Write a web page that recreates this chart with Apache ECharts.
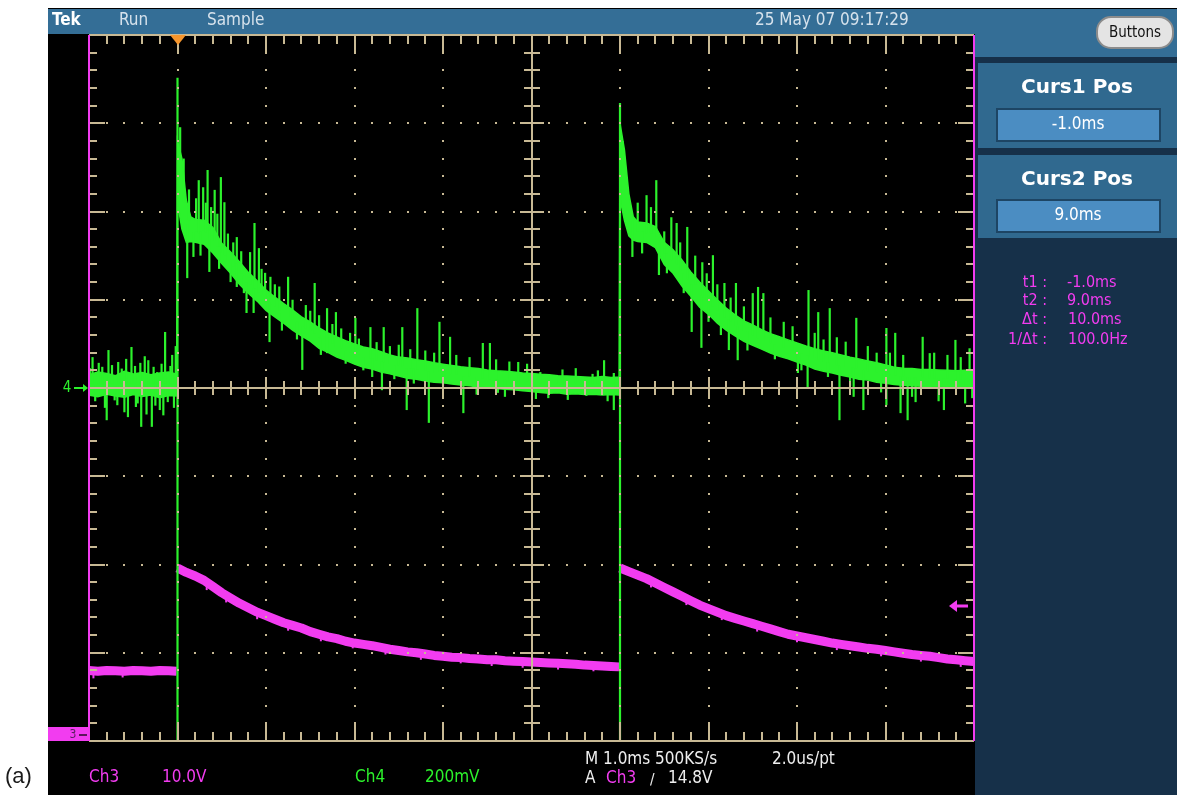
<!DOCTYPE html>
<html>
<head>
<meta charset="utf-8">
<style>
html, body { margin: 0; padding: 0; background: #fff; }
#main { width: 1177px; height: 795px; }
</style>
<script src="https://cdn.jsdelivr.net/npm/echarts@6/dist/echarts.min.js"></script>
</head>
<body>
<div id="main"></div>
<script>
// horizontal: ms (1.0ms/div), Ch4: mV (200mV/div), Ch3: V (10.0V/div)
var xTicks = [-1, 0, 1, 2, 3, 4, 5, 6, 7, 8, 9];
var yTicks = [-800, -600, -400, -200, 0, 200, 400, 600, 800];
var ch3Range = [-0.5, 79.5];
var trigTime = 0;
var trigLevel = 14.8;

// Ch4 (green) noise band, low / high edge
var ch4Time = [-1.0, -0.9, -0.8, -0.7, -0.6, -0.5, -0.4, -0.3, -0.2, -0.1, -0.01,
    0.0, 0.05, 0.1, 0.15, 0.2, 0.3, 0.4, 0.5, 0.6, 0.7, 0.8, 0.9,
    1.0, 1.1, 1.2, 1.3, 1.4, 1.5, 1.6, 1.7, 1.8, 1.9,
    2.0, 2.1, 2.2, 2.3, 2.4, 2.5, 2.6, 2.7, 2.8, 2.9,
    3.0, 3.1, 3.2, 3.3, 3.4, 3.5, 3.6, 3.7, 3.8, 3.9,
    4.0, 4.1, 4.2, 4.3, 4.4, 4.5, 4.6, 4.7, 4.8, 4.9, 4.99,
    5.0, 5.05, 5.1, 5.15, 5.2, 5.3, 5.4, 5.5, 5.6, 5.7, 5.8, 5.9,
    6.0, 6.1, 6.2, 6.3, 6.4, 6.5, 6.6, 6.7, 6.8, 6.9,
    7.0, 7.1, 7.2, 7.3, 7.4, 7.5, 7.6, 7.7, 7.8, 7.9,
    8.0, 8.1, 8.2, 8.3, 8.4, 8.5, 8.6, 8.7, 8.8, 8.9, 9.0];
var ch4Low = [-16, -20, -14, -18, -21, -15, -19, -16, -22, -17, -18,
    420, 360, 330, 332, 330, 326, 306, 282, 260, 235, 215, 197,
    176, 161, 147, 131, 118, 106, 90, 81, 70, 63,
    54, 47, 43, 36, 32, 27, 22, 20, 16, 13,
    12, 9, 7, 5, 2, 0, -1, -3, -4, -6,
    -8, -10, -12, -11, -14, -13, -15, -14, -16, -15, -16,
    430, 380, 345, 335, 332, 330, 318, 280, 260, 231, 208, 183,
    167, 147, 131, 118, 106, 97, 88, 79, 72, 66,
    59, 52, 43, 38, 34, 29, 25, 20, 18, 13,
    11, 8, 6, 5, 4, 3, 2, 3, 1, 2, 0];
var ch4High = [30, 36, 33, 28, 38, 32, 35, 30, 34, 36, 31,
    560, 520, 425, 388, 382, 380, 364, 328, 308, 286, 262, 243,
    222, 206, 191, 177, 161, 150, 136, 125, 116, 107,
    100, 93, 89, 82, 75, 70, 68, 64, 61, 57,
    54, 51, 48, 46, 44, 41, 39, 38, 36, 34,
    33, 31, 30, 28, 27, 26, 25, 24, 26, 24, 25,
    600, 540, 440, 388, 376, 374, 366, 330, 313, 290, 263, 240,
    220, 200, 181, 166, 152, 143, 132, 123, 116, 109,
    102, 95, 89, 84, 80, 75, 70, 66, 61, 57,
    52, 47, 45, 44, 42, 42, 41, 40, 39, 40, 39];

// Ch4 single-sample spikes: [time, from, to]
var ch4Spikes = [
    [-0.96, 10, 70], [-0.89, 10, 57], [-0.78, 10, 86], [-0.67, 10, 59], [-0.52, 10, 93],
    [-0.42, 10, 57], [-0.33, 10, 63], [-0.23, 10, 36], [-0.14, 10, 127], [-0.06, 10, 75],
    [-0.80, 5, -73], [-0.68, 5, -39], [-0.56, 5, -66], [-0.47, 5, -43], [-0.41, 5, -88],
    [-0.29, 5, -88], [-0.20, 5, -50], [-0.11, 5, -32],
    [-0.99, 10, 45], [-0.93, 5, -30], [-0.85, 10, 48], [-0.82, 5, -45], [-0.74, 10, 52],
    [-0.71, 5, -28], [-0.63, 10, 44], [-0.60, 5, -55], [-0.58, 10, 66], [-0.48, 10, 50],
    [-0.45, 5, -35], [-0.37, 10, 72], [-0.35, 5, -60], [-0.27, 10, 48], [-0.25, 5, -40],
    [-0.18, 10, 55], [-0.16, 5, -62], [-0.08, 10, 50], [-0.04, 5, -45], [-0.02, 10, 95],
    [0.0, -800, 703], [0.03, 480, 591],
    [0.24, 351, 471], [0.29, 357, 455], [0.34, 357, 494], [0.42, 335, 449], [0.49, 307, 478],
    [0.53, 300, 421], [0.67, 265, 342], [0.82, 234, 308], [0.87, 225, 374], [0.92, 216, 317],
    [0.99, 200, 261], [1.05, 190, 252], [1.25, 161, 252], [1.45, 134, 188], [1.55, 123, 238],
    [1.69, 104, 181], [1.79, 94, 172], [2.01, 77, 159], [2.18, 67, 138], [2.33, 58, 138],
    [2.54, 48, 138], [2.71, 42, 181], [2.96, 34, 150], [3.08, 30, 116], [3.45, 22, 102],
    [3.53, 20, 102], [3.85, 15, 59],
    [0.11, 370, 249], [0.18, 352, 297], [0.36, 357, 263], [0.67, 283, 229], [0.78, 240, 170],
    [0.86, 225, 170], [1.04, 197, 104], [1.41, 140, 41], [1.69, 104, 79], [2.20, 66, 25],
    [2.31, 60, -5], [2.59, 45, -50], [2.84, 38, -79], [3.23, 27, -57], [3.62, 19, -11],
    [0.07, 420, 520], [0.13, 380, 450], [0.21, 355, 430], [0.26, 355, 300], [0.32, 353, 420],
    [0.38, 345, 410], [0.45, 320, 395], [0.47, 320, 270], [0.57, 290, 350], [0.60, 285, 240],
    [0.63, 275, 330], [0.72, 260, 310], [0.75, 255, 215], [0.95, 210, 270], [1.10, 185, 235],
    [1.15, 175, 230], [1.18, 170, 130], [1.30, 155, 200], [1.35, 150, 110], [1.50, 130, 175],
    [1.60, 115, 165], [1.62, 112, 75], [1.75, 100, 145], [1.85, 90, 135], [1.90, 85, 55],
    [1.95, 80, 125], [2.05, 75, 112], [2.10, 70, 40], [2.25, 62, 104], [2.40, 55, 95],
    [2.45, 52, 20], [2.50, 50, 98], [2.63, 45, 88], [2.67, 44, 10], [2.80, 40, 85],
    [2.90, 36, 80], [3.00, 34, 5], [3.15, 30, 75], [3.30, 26, 70], [3.38, 25, -15],
    [3.60, 20, 65], [3.70, 19, -20], [3.75, 18, 60], [3.95, 15, 55], [4.05, 12, -25],
    [4.10, 10, 36], [4.28, 10, 29], [4.35, 10, 42], [4.50, 10, 45], [4.69, 10, 32],
    [4.75, 10, 40], [4.82, 10, 63], [4.93, 10, 34],
    [4.19, 5, -23], [4.41, 5, -27], [4.62, 5, -18], [4.86, 5, -30], [4.93, 5, -50],
    [5.0, -800, 646],
    [5.30, 350, 437], [5.41, 344, 471], [5.58, 290, 387], [5.64, 280, 374], [5.76, 245, 365],
    [5.93, 205, 285], [6.05, 185, 301], [6.18, 160, 238], [6.31, 142, 238], [6.50, 120, 215],
    [6.56, 113, 229], [6.62, 108, 215], [7.13, 72, 222], [7.24, 64, 172], [7.37, 58, 181],
    [7.67, 44, 159], [8.01, 31, 136], [8.11, 28, 125], [8.42, 23, 116], [8.50, 22, 79], [8.79, 20, 109],
    [5.14, 380, 297], [5.44, 340, 256], [5.81, 235, 127], [5.92, 210, 91], [6.23, 155, 86],
    [6.33, 140, 63], [7.01, 80, 34], [7.12, 73, 2], [7.48, 52, -73], [7.64, 47, -20],
    [7.75, 42, -50], [8.01, 31, -39], [8.17, 27, -57], [8.25, 25, -73], [8.34, 24, -32],
    [8.66, 21, -50], [8.98, 20, -23],
    [5.03, 450, 560], [5.20, 355, 420], [5.25, 355, 305], [5.35, 350, 410], [5.50, 305, 355],
    [5.53, 305, 260], [5.68, 265, 330], [5.72, 260, 215], [5.85, 235, 300], [5.98, 200, 260],
    [6.00, 195, 150], [6.10, 175, 235], [6.14, 170, 120], [6.25, 150, 205], [6.40, 130, 185],
    [6.44, 128, 85], [6.70, 100, 160], [6.75, 98, 65], [6.85, 92, 150], [6.95, 85, 140],
    [7.05, 78, 40], [7.20, 68, 125], [7.30, 60, 110], [7.35, 58, 25], [7.45, 52, 115],
    [7.55, 48, 105], [7.60, 46, 5], [7.80, 38, 95], [7.90, 35, 80], [7.95, 34, -10],
    [8.05, 30, 80], [8.20, 27, 75], [8.30, 25, -20], [8.55, 22, 80], [8.60, 22, -30],
    [8.70, 21, 75], [8.85, 20, 70], [8.90, 20, -35], [8.95, 20, 90]
];

// Ch3 (magenta), null = break at the switching edge
var ch3Time = [-1.0, -0.9, -0.8, -0.7, -0.6, -0.5, -0.4, -0.3, -0.2, -0.1, -0.01, -0.005,
    0.0, 0.1, 0.2, 0.3, 0.4, 0.5, 0.6, 0.7, 0.8, 0.9,
    1.0, 1.1, 1.2, 1.3, 1.4, 1.5, 1.6, 1.7, 1.8, 1.9,
    2.0, 2.1, 2.2, 2.3, 2.4, 2.5, 2.6, 2.7, 2.8, 2.9,
    3.0, 3.1, 3.2, 3.3, 3.4, 3.5, 3.6, 3.7, 3.8, 3.9,
    4.0, 4.1, 4.2, 4.3, 4.4, 4.5, 4.6, 4.7, 4.8, 4.9, 4.99, 4.995,
    5.0, 5.1, 5.2, 5.3, 5.4, 5.5, 5.6, 5.7, 5.8, 5.9,
    6.0, 6.1, 6.2, 6.3, 6.4, 6.5, 6.6, 6.7, 6.8, 6.9,
    7.0, 7.1, 7.2, 7.3, 7.4, 7.5, 7.6, 7.7, 7.8, 7.9,
    8.0, 8.1, 8.2, 8.3, 8.4, 8.5, 8.6, 8.7, 8.8, 8.9, 9.0];
var ch3Volt = [7.5, 7.4, 7.5, 7.45, 7.4, 7.5, 7.45, 7.4, 7.5, 7.45, 7.4, null,
    19.1, 18.6, 18.2, 17.7, 17.0, 16.3, 15.7, 15.1, 14.6, 14.1,
    13.7, 13.3, 12.9, 12.6, 12.3, 11.9, 11.6, 11.3, 11.1, 10.8,
    10.6, 10.45, 10.3, 10.1, 9.9, 9.75, 9.6, 9.5, 9.35, 9.2,
    9.1, 9.0, 8.95, 8.85, 8.8, 8.7, 8.7, 8.6, 8.55, 8.5,
    8.45, 8.4, 8.35, 8.3, 8.25, 8.2, 8.1, 8.05, 8.0, 7.95, 7.9, null,
    19.1, 18.7, 18.3, 17.9, 17.4, 16.9, 16.4, 15.9, 15.4, 14.9,
    14.5, 14.1, 13.7, 13.4, 13.1, 12.8, 12.5, 12.2, 11.9, 11.6,
    11.4, 11.2, 11.0, 10.8, 10.6, 10.45, 10.3, 10.15, 10.0, 9.9,
    9.75, 9.6, 9.45, 9.3, 9.2, 9.1, 8.95, 8.8, 8.7, 8.6, 8.5];

// small Ch3 sample glitches: [time, from, to]
var ch3Glitches = [
    [-0.95, 7.4, 6.6], [-0.62, 7.4, 6.7], [0.33, 17.4, 16.6], [0.55, 16.0, 15.2],
    [0.9, 14.1, 13.3], [1.25, 12.8, 12.0], [1.62, 11.5, 10.8], [1.98, 10.7, 10.0],
    [2.35, 10.0, 9.3], [2.75, 9.4, 8.7], [3.2, 8.95, 8.3], [3.55, 8.7, 8.0],
    [3.9, 8.5, 7.8], [4.3, 8.3, 7.6], [4.7, 8.05, 7.4],
    [5.35, 17.7, 16.9], [5.75, 15.6, 14.9], [6.15, 13.9, 13.2], [6.55, 12.6, 11.9],
    [7.0, 11.4, 10.7], [7.45, 10.5, 9.8], [7.95, 9.8, 9.1], [8.4, 9.2, 8.5], [8.85, 8.65, 7.9]
];

var GREEN = '#2cf22c';
var MAGENTA = '#f23cf0';
var TAN = '#c8b994';
var ORANGE = '#f5952c';
var FONT = '"DejaVu Sans Condensed", "DejaVu Sans", sans-serif';

var chart = echarts.init(document.getElementById('main'), null, { renderer: 'canvas' });

function seg(list, x1, y1, x2, y2, color, w) {
    list.push({ type: 'line', shape: { x1: x1, y1: y1, x2: x2, y2: y2 }, style: { stroke: color, lineWidth: w || 2 } });
}

function renderGraticule(params, api) {
    var c = [];
    var tMin = xTicks[0], tMax = xTicks[xTicks.length - 1];
    var vMin = yTicks[0], vMax = yTicks[yTicks.length - 1];
    var nx = (xTicks.length - 1) * 5, ny = (yTicks.length - 1) * 5;
    var dt = (tMax - tMin) / nx, dv = (vMax - vMin) / ny;
    var left = Math.round(api.coord([tMin, 0])[0]), right = Math.round(api.coord([tMax, 0])[0]);
    var top = Math.round(api.coord([0, vMax])[1]), bottom = Math.round(api.coord([0, vMin])[1]);
    var midT = xTicks[(xTicks.length - 1) / 2];
    var cx = Math.round(api.coord([midT, 0])[0]), cy = Math.round(api.coord([0, 0])[1]);
    var i, k, px, py, len;

    // dotted division lines
    for (i = 1; i < xTicks.length - 1; i++) {
        if (xTicks[i] === midT) continue;
        px = Math.round(api.coord([xTicks[i], 0])[0]);
        for (k = 1; k < ny; k++) {
            py = Math.round(api.coord([0, vMin + k * dv])[1]);
            c.push({ type: 'rect', shape: { x: px - 1, y: py - 1, width: 2, height: 2 }, style: { fill: TAN } });
        }
    }
    for (i = 1; i < yTicks.length - 1; i++) {
        if (yTicks[i] === 0) continue;
        py = Math.round(api.coord([0, yTicks[i]])[1]);
        for (k = 1; k < nx; k++) {
            px = Math.round(api.coord([tMin + k * dt, 0])[0]);
            c.push({ type: 'rect', shape: { x: px - 1, y: py - 1, width: 2, height: 2 }, style: { fill: TAN } });
        }
    }
    // centre cross
    seg(c, left, cy, right, cy, TAN, 2);
    seg(c, cx, top, cx, bottom, TAN, 2);
    for (k = 1; k < nx; k++) {
        px = Math.round(api.coord([tMin + k * dt, 0])[0]);
        len = k % 5 === 0 ? 11 : 7;
        seg(c, px, cy - len, px, cy + len, TAN, 2);
        // top and bottom rulers
        len = k % 5 === 0 ? 17 : 9;
        seg(c, px, top, px, top + len, TAN, 2);
        seg(c, px, bottom, px, bottom - len, TAN, 2);
    }
    for (k = 1; k < ny; k++) {
        py = Math.round(api.coord([0, vMin + k * dv])[1]);
        len = k % 5 === 0 ? 12 : 8;
        seg(c, cx - len, py, cx + len, py, TAN, 2);
        len = k % 5 === 0 ? 16 : 8;
        seg(c, left, py, left + len, py, TAN, 2);
        seg(c, right, py, right - len, py, TAN, 2);
    }
    seg(c, left, top, right, top, TAN, 2);
    seg(c, left, bottom, right, bottom, TAN, 2);
    seg(c, left, top, left, bottom, MAGENTA, 2);
    seg(c, right, top, right, bottom, MAGENTA, 2);

    // trigger position marker
    px = Math.round(api.coord([trigTime, 0])[0]);
    c.push({ type: 'polygon', shape: { points: [[px - 8, top], [px + 8, top], [px, top + 10]] }, style: { fill: ORANGE } });
    // Ch4 ground marker
    c.push({ type: 'text', style: { text: '4', x: left - 22, y: cy, fill: GREEN, font: '15px ' + FONT, align: 'center', verticalAlign: 'middle' } });
    seg(c, left - 15, cy, left - 2, cy, GREEN, 2);
    c.push({ type: 'polygon', shape: { points: [[left - 1, cy], [left - 6, cy - 4], [left - 6, cy + 4]] }, style: { fill: GREEN } });
    return { type: 'group', children: c };
}

function renderCh3Marks(params, api) {
    var c = [];
    var right = Math.round(api.coord([xTicks[xTicks.length - 1], 0])[0]);
    var left = Math.round(api.coord([xTicks[0], 0])[0]);
    var ty = Math.round(api.coord([0, trigLevel])[1]);
    var gy = Math.round(api.coord([0, 0])[1]);
    // trigger level arrow
    seg(c, right - 6, ty, right - 22, ty, MAGENTA, 3);
    c.push({ type: 'polygon', shape: { points: [[right - 25, ty], [right - 17, ty - 6], [right - 17, ty + 6]] }, style: { fill: MAGENTA } });
    // Ch3 ground marker
    c.push({ type: 'rect', shape: { x: left - 41, y: gy - 10, width: 41, height: 14 }, style: { fill: MAGENTA } });
    c.push({ type: 'text', style: { text: '3', x: left - 16, y: gy - 2, fill: '#5a2060', font: '12px ' + FONT, align: 'center', verticalAlign: 'middle' } });
    seg(c, left - 10, gy - 2, left - 2, gy - 2, '#2a0a2a', 1.5);
    return { type: 'group', children: c };
}

var ch3Data = ch3Time.map(function (t, i) {
    return [t, ch3Volt[i] === null ? '-' : ch3Volt[i]];
});

function spikeItem(api, color, w) {
    var a = api.coord([api.value(0), api.value(1)]);
    var b = api.coord([api.value(0), api.value(2)]);
    return { type: 'line', shape: { x1: a[0], y1: a[1], x2: b[0], y2: b[1] }, style: { stroke: color, lineWidth: w } };
}

function txt(text, x, y, color, size, extra) {
    var o = { type: 'text', z: 50, style: { text: text, x: x, y: y, fill: color, font: size + 'px ' + FONT, align: 'left', verticalAlign: 'middle' } };
    if (extra) {
        for (var key in extra) o.style[key] = extra[key];
    }
    return o;
}

var graphics = [
    // scope screen frame
    { type: 'rect', z: -10, shape: { x: 48, y: 8, width: 1129, height: 787 }, style: { fill: '#000' } },
    { type: 'rect', z: -9, shape: { x: 48, y: 9, width: 927, height: 25 }, style: { fill: '#346e96' } },
    { type: 'rect', z: -9, shape: { x: 975, y: 9, width: 202, height: 786 }, style: { fill: '#163049' } },
    { type: 'rect', z: -8, shape: { x: 975, y: 9, width: 202, height: 48 }, style: { fill: '#346e96' } },
    { type: 'rect', z: -8, shape: { x: 978, y: 63, width: 199, height: 85 }, style: { fill: '#30698f' } },
    { type: 'rect', z: -8, shape: { x: 978, y: 155, width: 199, height: 83 }, style: { fill: '#30698f' } },
    { type: 'rect', z: -7, shape: { x: 997, y: 109, width: 163, height: 32 }, style: { fill: '#4b8dc2', stroke: '#1d4564', lineWidth: 2 } },
    { type: 'rect', z: -7, shape: { x: 997, y: 200, width: 163, height: 32 }, style: { fill: '#4b8dc2', stroke: '#1d4564', lineWidth: 2 } },
    { type: 'rect', z: -6, shape: { x: 1097, y: 17, width: 76, height: 31, r: 14 }, style: { fill: '#e4e4e4', stroke: '#8c8c8c', lineWidth: 2 } },
    txt('Buttons', 1135, 33, '#111', 15, { align: 'center' }),
    txt('Tek', 52, 21, '#ffffff', 17, { font: 'bold 17px ' + FONT }),
    txt('Run', 119, 21, '#d6e2ec', 17),
    txt('Sample', 207, 21, '#d6e2ec', 17),
    txt('25 May 07 09:17:29', 755, 21, '#d6e2ec', 17),
    txt('Curs1 Pos', 1077, 88, '#ffffff', 20, { align: 'center', font: 'bold 20px "DejaVu Sans", sans-serif' }),
    txt('-1.0ms', 1078, 125, '#ffffff', 17, { align: 'center' }),
    txt('Curs2 Pos', 1077, 180, '#ffffff', 20, { align: 'center', font: 'bold 20px "DejaVu Sans", sans-serif' }),
    txt('9.0ms', 1078, 216, '#ffffff', 17, { align: 'center' }),
    txt('t1 :', 1047, 283, MAGENTA, 16, { align: 'right' }),
    txt('t2 :', 1047, 301, MAGENTA, 16, { align: 'right' }),
    txt('\u0394t :', 1047, 320, MAGENTA, 16, { align: 'right' }),
    txt('1/\u0394t :', 1047, 340, MAGENTA, 16, { align: 'right' }),
    txt('-1.0ms', 1067, 283, MAGENTA, 16),
    txt('9.0ms', 1067, 301, MAGENTA, 16),
    txt('10.0ms', 1068, 320, MAGENTA, 16),
    txt('100.0Hz', 1068, 340, MAGENTA, 16),
    txt('Ch3', 89, 778, MAGENTA, 17),
    txt('10.0V', 162, 778, MAGENTA, 17),
    txt('Ch4', 355, 778, GREEN, 17),
    txt('200mV', 425, 778, GREEN, 17),
    txt('M 1.0ms 500KS/s', 585, 760, '#eeeeee', 17),
    txt('2.0us/pt', 772, 760, '#eeeeee', 17),
    txt('A', 585, 779, '#eeeeee', 17),
    txt('Ch3', 606, 779, MAGENTA, 17),
    txt('\u2215', 650, 780, '#eeeeee', 15),
    txt('14.8V', 668, 779, '#eeeeee', 17),
    { type: 'text', z: 50, style: { text: '(a)', x: 5, y: 777, fill: '#1a1a1a', font: '22px "Liberation Sans", Arial, sans-serif', verticalAlign: 'middle' } }
];

var option = {
    animation: false,
    backgroundColor: '#ffffff',
    grid: { left: 89, top: 35, width: 885, height: 706, outerBoundsMode: 'none' },
    xAxis: { type: 'value', min: xTicks[0], max: xTicks[xTicks.length - 1], interval: 1, show: false },
    yAxis: [
        { type: 'value', min: yTicks[0], max: yTicks[yTicks.length - 1], interval: 200, show: false },
        { type: 'value', min: ch3Range[0], max: ch3Range[1], show: false }
    ],
    graphic: graphics,
    series: [
        {
            name: 'Ch3',
            type: 'line',
            yAxisIndex: 1,
            data: ch3Data,
            showSymbol: false,
            connectNulls: false,
            silent: true,
            z: 2,
            lineStyle: { color: MAGENTA, width: 9 }
        },
        {
            name: 'Ch3 glitches',
            type: 'custom',
            yAxisIndex: 1,
            silent: true,
            z: 2,
            data: ch3Glitches,
            encode: { x: 0, y: [1, 2] },
            renderItem: function (params, api) { return spikeItem(api, MAGENTA, 2); }
        },
        {
            name: 'Ch4 band',
            type: 'custom',
            silent: true,
            z: 3,
            data: [[ch4Time[0], ch4Low[0]]],
            renderItem: function (params, api) {
                var up = [], dn = [];
                for (var i = 0; i < ch4Time.length; i++) {
                    up.push(api.coord([ch4Time[i], ch4High[i]]));
                    dn.unshift(api.coord([ch4Time[i], ch4Low[i]]));
                }
                return { type: 'polygon', shape: { points: up.concat(dn) }, style: { fill: GREEN, stroke: GREEN, lineWidth: 1.5 } };
            }
        },
        {
            name: 'Ch4 spikes',
            type: 'custom',
            silent: true,
            z: 3,
            data: ch4Spikes,
            encode: { x: 0, y: [1, 2] },
            renderItem: function (params, api) { return spikeItem(api, GREEN, 2.2); }
        },
        {
            name: 'graticule',
            type: 'custom',
            silent: true,
            z: 10,
            data: [[0, 0]],
            renderItem: renderGraticule
        },
        {
            name: 'Ch3 marks',
            type: 'custom',
            silent: true,
            yAxisIndex: 1,
            z: 11,
            data: [[0, 0]],
            renderItem: renderCh3Marks
        }
    ]
};

chart.setOption(option);
</script>
</body>
</html>
